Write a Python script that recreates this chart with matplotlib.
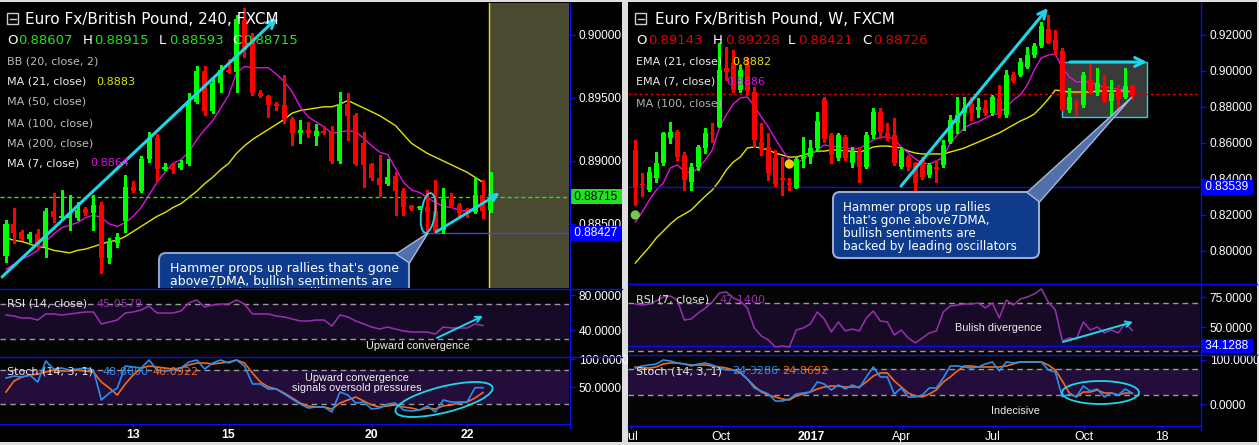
import numpy as np
import matplotlib
matplotlib.use("Agg")
import matplotlib.pyplot as plt
import matplotlib.transforms as mtransforms
from matplotlib.patches import Rectangle, FancyBboxPatch, Polygon, Ellipse
from matplotlib.lines import Line2D

plt.rcParams['font.family'] = ['DejaVu Sans']
SCALE_FONT = 'Liberation Sans'

# ---------------- EUR/GBP 4-hour candles ----------------
open_l = [0.88245, 0.88499, 0.88436, 0.88380, 0.88420, 0.88317, 0.88603, 0.88547, 0.88547, 0.88547,
          0.88619, 0.88587, 0.88650, 0.88229, 0.88349, 0.88523, 0.88793, 0.88761, 0.89016, 0.89182,
          0.88936, 0.88944, 0.88944, 0.88976, 0.89468, 0.89714, 0.89397, 0.89619, 0.89722, 0.89706,
          0.90119, 0.89960, 0.89540, 0.89516, 0.89452, 0.89444, 0.89333, 0.89222, 0.89246, 0.89198,
          0.89238, 0.89230, 0.89000, 0.89452, 0.89365, 0.89143, 0.88976, 0.88865, 0.88817, 0.88881,
          0.88761, 0.88642, 0.88626, 0.88634, 0.88603, 0.88452, 0.88698, 0.88650, 0.88619, 0.88595,
          0.88730, 0.88607]
high_l = [0.88531, 0.88626, 0.88452, 0.88436, 0.88460, 0.88626, 0.88746, 0.88769, 0.88730, 0.88674,
          0.88634, 0.88730, 0.88674, 0.88388, 0.88428, 0.88889, 0.88841, 0.89040, 0.89230, 0.89214,
          0.88984, 0.88976, 0.89008, 0.89540, 0.89754, 0.89754, 0.89659, 0.89762, 0.89810, 0.90159,
          0.90214, 0.90016, 0.89563, 0.89524, 0.89468, 0.89683, 0.89349, 0.89325, 0.89309, 0.89294,
          0.89278, 0.89278, 0.89548, 0.89540, 0.89381, 0.89230, 0.88984, 0.89048, 0.89016, 0.88912,
          0.88785, 0.88650, 0.88642, 0.88769, 0.88849, 0.88785, 0.88746, 0.88666, 0.88626, 0.88873,
          0.88849, 0.88915]
low_l = [0.88198, 0.88349, 0.88372, 0.88357, 0.88309, 0.88237, 0.88515, 0.88531, 0.88452, 0.88531,
         0.88571, 0.88452, 0.88110, 0.88190, 0.88317, 0.88436, 0.88754, 0.88754, 0.88992, 0.88841,
         0.88928, 0.88904, 0.88936, 0.88968, 0.89460, 0.89365, 0.89381, 0.89548, 0.89698, 0.89548,
         0.89826, 0.89524, 0.89508, 0.89349, 0.89405, 0.89302, 0.89127, 0.89143, 0.89190, 0.89127,
         0.89214, 0.88984, 0.88984, 0.89167, 0.88968, 0.88793, 0.88849, 0.88722, 0.88809, 0.88571,
         0.88571, 0.88611, 0.88619, 0.88452, 0.88427, 0.88428, 0.88634, 0.88555, 0.88555, 0.88587,
         0.88547, 0.88593]
close_l = [0.88499, 0.88428, 0.88380, 0.88420, 0.88317, 0.88603, 0.88555, 0.88563, 0.88563, 0.88611,
           0.88587, 0.88650, 0.88229, 0.88357, 0.88396, 0.88793, 0.88761, 0.89016, 0.89182, 0.88936,
           0.88952, 0.88936, 0.88984, 0.89476, 0.89714, 0.89397, 0.89619, 0.89722, 0.89706, 0.90127,
           0.89881, 0.89540, 0.89516, 0.89444, 0.89436, 0.89333, 0.89222, 0.89246, 0.89222, 0.89238,
           0.89222, 0.89000, 0.89452, 0.89357, 0.88976, 0.88968, 0.88865, 0.88809, 0.88873, 0.88761,
           0.88634, 0.88619, 0.88634, 0.88595, 0.88444, 0.88698, 0.88642, 0.88587, 0.88595, 0.88730,
           0.88603, 0.88715]
ma21_l = [0.8839, 0.8837, 0.8836, 0.8834, 0.8832, 0.8831, 0.8829, 0.8828, 0.8827, 0.8829,
          0.8830, 0.8832, 0.8834, 0.8836, 0.8837, 0.8840, 0.8844, 0.8848, 0.8852, 0.8856,
          0.8859, 0.8863, 0.8866, 0.8871, 0.8876, 0.8882, 0.8887, 0.8893, 0.8898, 0.8906,
          0.8912, 0.8917, 0.8921, 0.8925, 0.8929, 0.8933, 0.8938, 0.8940, 0.8941, 0.8942,
          0.8943, 0.8943, 0.8945, 0.8948, 0.8945, 0.8942, 0.8939, 0.8936, 0.8932, 0.8928,
          0.8921, 0.8914, 0.8910, 0.8906, 0.8903, 0.8900, 0.8897, 0.8894, 0.8891, 0.8887,
          0.8883]
ma7_l = [0.8814, 0.8818, 0.8822, 0.8825, 0.8829, 0.8836, 0.8842, 0.8847, 0.8849, 0.8851,
         0.8855, 0.8857, 0.8855, 0.8850, 0.8848, 0.8851, 0.8856, 0.8863, 0.8873, 0.8883,
         0.8891, 0.8898, 0.8901, 0.8907, 0.8917, 0.8925, 0.8932, 0.8942, 0.8952, 0.8970,
         0.8975, 0.8974, 0.8974, 0.8974, 0.8969, 0.8963, 0.8955, 0.8943, 0.8935, 0.8931,
         0.8927, 0.8922, 0.8923, 0.8924, 0.8923, 0.8918, 0.8912, 0.8907, 0.8905, 0.8894,
         0.8883, 0.8877, 0.8875, 0.8871, 0.8867, 0.8864, 0.8863, 0.8861, 0.8860, 0.8863,
         0.8864]
rsi_l = [57.1, 56.0, 53.7, 53.7, 51.4, 58.3, 58.3, 57.1, 58.3, 59.4,
         60.6, 60.6, 46.9, 49.1, 51.4, 59.4, 60.6, 62.9, 67.4, 59.4,
         59.4, 59.4, 61.7, 70.9, 74.3, 66.3, 68.6, 69.7, 69.7, 74.3,
         69.7, 58.3, 58.3, 58.3, 56.0, 54.9, 52.6, 50.3, 50.3, 51.4,
         51.4, 44.6, 57.1, 54.9, 50.3, 46.9, 43.4, 41.1, 43.4, 41.1,
         38.9, 37.7, 37.7, 37.7, 35.4, 43.4, 42.3, 42.3, 42.3, 46.9,
         45.0579]
stk_l = [66.1, 69.6, 67.9, 71.4, 58.9, 96.4, 82.1, 83.9, 80.4, 82.1,
         83.9, 80.4, 26.8, 39.3, 48.2, 87.5, 85.7, 83.9, 98.2, 80.4,
         78.6, 80.4, 83.9, 94.6, 98.2, 82.1, 92.9, 98.2, 92.9, 98.2,
         87.5, 55.4, 55.4, 46.4, 46.4, 37.5, 28.6, 19.6, 12.5, 14.3,
         14.3, 5.4, 41.1, 35.7, 21.4, 23.2, 10.7, 12.5, 19.6, 21.4,
         8.9, 7.1, 8.9, 16.1, 5.4, 26.8, 23.2, 23.2, 23.2, 48.8,
         48.8]
std_l = [41.1, 60.7, 67.9, 71.4, 73.2, 76.8, 80.4, 78.6, 78.6, 80.4,
         78.6, 76.8, 58.9, 48.2, 35.7, 55.4, 71.4, 83.9, 87.5, 85.7,
         83.9, 82.1, 83.9, 89.3, 92.9, 92.9, 91.1, 92.9, 94.6, 98.2,
         92.9, 75.0, 58.9, 50.0, 46.4, 39.3, 30.4, 21.4, 16.1, 14.3,
         14.3, 10.7, 21.4, 26.8, 32.1, 25.0, 17.9, 14.3, 16.1, 17.9,
         14.3, 12.5, 8.9, 12.5, 10.7, 16.1, 17.9, 21.4, 23.2, 30.4,
         40.0922]
ticks_l = [16, 28, 46, 58]
ticklabels_l = ['13', '15', '20', '22']
support_l = 0.88427

# ---------------- EUR/GBP weekly candles ----------------
open_r = [0.85611, 0.83722, 0.83389, 0.84055, 0.84888, 0.86277, 0.86610, 0.85332, 0.83833, 0.84666,
          0.85721, 0.86555, 0.86888, 0.90166, 0.90444, 0.88944, 0.90333, 0.88833, 0.86055, 0.85777,
          0.85166, 0.84055, 0.83777, 0.83499, 0.85110, 0.85221, 0.85721, 0.88444, 0.86444, 0.85166,
          0.86333, 0.84888, 0.85499, 0.84666, 0.86444, 0.87721, 0.86555, 0.86444, 0.84666, 0.85221,
          0.84888, 0.85055, 0.84222, 0.84666, 0.84777, 0.86055, 0.87110, 0.87666, 0.88166, 0.87833,
          0.87944, 0.87666, 0.88499, 0.87555, 0.89777, 0.89777, 0.90222, 0.90888, 0.91388, 0.92333,
          0.91722, 0.91110, 0.87833, 0.88222, 0.88111, 0.89499, 0.88777, 0.89221, 0.88333, 0.88944,
          0.88555, 0.89143]
high_r = [0.86166, 0.84333, 0.84666, 0.85499, 0.86610, 0.87166, 0.86721, 0.85499, 0.84888, 0.85888,
          0.86833, 0.87110, 0.91555, 0.91333, 0.91166, 0.90333, 0.90722, 0.89110, 0.87110, 0.86555,
          0.85611, 0.85221, 0.84055, 0.85221, 0.86333, 0.86166, 0.87721, 0.88555, 0.86555, 0.86555,
          0.86444, 0.85777, 0.85777, 0.86610, 0.87944, 0.87944, 0.87110, 0.87388, 0.85777, 0.85333,
          0.84944, 0.85221, 0.84888, 0.85055, 0.86166, 0.87555, 0.88555, 0.88555, 0.88555, 0.88499,
          0.88388, 0.88666, 0.89221, 0.90055, 0.89944, 0.90722, 0.91333, 0.91555, 0.92722, 0.93110,
          0.92277, 0.91277, 0.89055, 0.88388, 0.89944, 0.90444, 0.90166, 0.89777, 0.89499, 0.89221,
          0.90166, 0.89228]
low_r = [0.82555, 0.83055, 0.83333, 0.83833, 0.84777, 0.85999, 0.85055, 0.83388, 0.83388, 0.84499,
         0.85443, 0.86055, 0.86888, 0.89499, 0.88833, 0.88833, 0.88666, 0.85777, 0.85333, 0.83944,
         0.83610, 0.83110, 0.83388, 0.83499, 0.84666, 0.84888, 0.85610, 0.86055, 0.84888, 0.85055,
         0.85055, 0.84666, 0.83833, 0.84610, 0.86277, 0.86277, 0.86166, 0.84777, 0.84610, 0.84499,
         0.82999, 0.83999, 0.84110, 0.83833, 0.84666, 0.85999, 0.86555, 0.86722, 0.87277, 0.87444,
         0.87555, 0.87555, 0.87444, 0.87444, 0.89388, 0.89722, 0.90166, 0.90777, 0.91333, 0.91555,
         0.90944, 0.87833, 0.87722, 0.87555, 0.87999, 0.88777, 0.88666, 0.88277, 0.87444, 0.87944,
         0.88499, 0.88421]
close_r = [0.83539, 0.83638, 0.84388, 0.84888, 0.86555, 0.86610, 0.85221, 0.83944, 0.84666, 0.85777,
           0.86555, 0.86499, 0.90055, 0.89944, 0.88944, 0.90055, 0.88888, 0.86166, 0.85611, 0.84333,
           0.83721, 0.83944, 0.83666, 0.85110, 0.85277, 0.85721, 0.87221, 0.86222, 0.85333, 0.86444,
           0.85166, 0.85499, 0.84666, 0.86444, 0.87721, 0.86610, 0.86333, 0.84888, 0.85611, 0.84666,
           0.83777, 0.84110, 0.84777, 0.84555, 0.85888, 0.87277, 0.87555, 0.87944, 0.87666, 0.87999,
           0.87666, 0.88555, 0.87555, 0.89777, 0.89444, 0.90499, 0.90888, 0.91388, 0.92499, 0.91555,
           0.91166, 0.87833, 0.88555, 0.88111, 0.89777, 0.88833, 0.89333, 0.88333, 0.88777, 0.88444,
           0.89166, 0.88726]
ema21_r = [0.7933, 0.7978, 0.8022, 0.8072, 0.8111, 0.8150, 0.8183, 0.8205, 0.8228, 0.8267,
           0.8305, 0.8339, 0.8389, 0.8450, 0.8494, 0.8522, 0.8572, 0.8578, 0.8572, 0.8561,
           0.8544, 0.8533, 0.8522, 0.8522, 0.8533, 0.8544, 0.8555, 0.8555, 0.8561, 0.8561,
           0.8555, 0.8555, 0.8550, 0.8561, 0.8578, 0.8583, 0.8583, 0.8578, 0.8572, 0.8555,
           0.8544, 0.8539, 0.8539, 0.8539, 0.8539, 0.8550, 0.8561, 0.8572, 0.8589, 0.8605,
           0.8622, 0.8639, 0.8656, 0.8678, 0.8700, 0.8722, 0.8739, 0.8761, 0.8800, 0.8844,
           0.8894, 0.8889, 0.8883, 0.8883, 0.8883, 0.8883, 0.8889, 0.8889, 0.8889, 0.8889,
           0.8889, 0.8882]
ema7_r = [0.8161, 0.8217, 0.8283, 0.8339, 0.8378, 0.8461, 0.8478, 0.8444, 0.8433, 0.8461,
          0.8505, 0.8561, 0.8683, 0.8756, 0.8817, 0.8850, 0.8856, 0.8806, 0.8744, 0.8689,
          0.8622, 0.8561, 0.8505, 0.8483, 0.8511, 0.8539, 0.8561, 0.8589, 0.8583, 0.8578,
          0.8572, 0.8567, 0.8567, 0.8594, 0.8617, 0.8633, 0.8633, 0.8622, 0.8578, 0.8544,
          0.8511, 0.8489, 0.8483, 0.8500, 0.8522, 0.8600, 0.8644, 0.8683, 0.8706, 0.8717,
          0.8739, 0.8756, 0.8767, 0.8800, 0.8839, 0.8867, 0.8922, 0.9006, 0.9072, 0.9089,
          0.9094, 0.9017, 0.8967, 0.8939, 0.8939, 0.8939, 0.8922, 0.8911, 0.8906, 0.8900,
          0.8894, 0.8886]
rsi_r = [69.2, 68.3, 69.2, 71.7, 75.0, 75.8, 72.5, 55.8, 56.7, 61.7,
         65.8, 70.8, 78.3, 79.2, 74.2, 71.7, 65.8, 49.2, 42.5, 39.2,
         33.3, 34.2, 33.3, 47.5, 49.2, 52.5, 62.5, 56.7, 45.8, 54.2,
         46.7, 48.3, 46.7, 57.5, 63.3, 55.0, 54.2, 43.3, 47.5, 40.8,
         36.7, 40.8, 45.0, 46.7, 62.5, 67.5, 68.3, 69.2, 69.2, 70.0,
         65.8, 70.0, 57.5, 72.5, 68.3, 73.3, 75.0, 77.5, 81.7, 70.8,
         64.2, 38.3, 40.8, 40.0, 54.2, 47.5, 50.0, 45.0, 47.5, 45.0,
         53.3, 47.14]
stk_r = [81.8, 86.4, 88.6, 90.9, 100.0, 97.7, 93.2, 90.9, 86.4, 90.9,
         93.2, 88.6, 81.8, 77.3, 77.3, 72.7, 56.8, 36.4, 29.5, 22.7,
         6.8, 6.8, 11.4, 22.7, 25.0, 27.3, 50.0, 45.5, 31.8, 43.2,
         34.1, 43.2, 36.4, 61.4, 84.1, 61.4, 61.4, 22.7, 36.4, 15.9,
         15.9, 20.5, 36.4, 36.4, 59.1, 86.4, 86.4, 84.1, 81.8, 84.1,
         90.9, 95.5, 75.0, 95.5, 93.2, 95.5, 95.5, 95.5, 95.5, 77.3,
         72.7, 15.9, 22.7, 15.9, 40.9, 29.5, 34.1, 15.9, 25.0, 20.5,
         34.1, 24.3286]
std_r = [84.1, 81.8, 81.8, 84.1, 90.9, 93.2, 93.2, 90.9, 88.6, 88.6,
         88.6, 86.4, 84.1, 81.8, 77.3, 70.5, 56.8, 40.9, 27.3, 20.5,
         15.9, 11.4, 9.1, 18.2, 22.7, 27.3, 34.1, 38.6, 40.9, 40.9,
         38.6, 38.6, 38.6, 50.0, 63.6, 70.5, 70.5, 52.3, 38.6, 25.0,
         18.2, 15.9, 22.7, 31.8, 50.0, 61.4, 75.0, 86.4, 86.4, 84.1,
         84.1, 84.1, 84.1, 86.4, 90.9, 95.5, 95.5, 95.5, 95.5, 88.6,
         77.3, 52.3, 25.0, 15.9, 27.3, 27.3, 31.8, 25.0, 25.0, 20.5,
         25.0, 24.8692]
signal_x_r = [0, 22]
signal_y_r = [0.8200, 0.8483]
signal_c_r = ['#78c850', '#ffc400']
ticks_r = [-0.6, 12.2, 25.1, 38.1, 51.1, 64.1, 75.2]
ticklabels_r = ['Jul', 'Oct', '2017', 'Apr', 'Jul', 'Oct', '18']
support_r = 0.83539
rsi_mark_r = 34.1288

# ---------------- styling ----------------
W, H = 1259, 445
BLUE = '#0c0cf2'
UP = '#00ff00'
DOWN = '#ff0000'
CYAN = '#1ed6ea'
YEL = '#e4e400'
MAG = '#e010e0'
RSI_C = '#9a2fb2'
K_C = '#2a8ef0'
D_C = '#f26a1c'
BAND_R = '#170a26'
BAND_S = '#230e3b'
PANE_BG = '#050505'

fig = plt.figure(figsize=(W / 100, H / 100), dpi=100, facecolor='#dedede')
PX = mtransforms.Affine2D().scale(1, -1).translate(0, H)   # top-left pixel space


def rect(x0, y0, x1, y1):
    return [x0 / W, 1 - y1 / H, (x1 - x0) / W, (y1 - y0) / H]


def pxline(x0, y0, x1, y1, color=BLUE, lw=1.0, **kw):
    fig.add_artist(Line2D([x0, x1], [y0, y1], transform=PX, color=color, lw=lw, **kw))


def ftxt(x, y, s, color='white', size=8, **kw):
    fig.text(x, y, s, transform=PX, color=color, fontsize=size, va='center', ha='left', **kw)


def ctxt(x, y, s, size=7.8, **kw):
    fig.text(x, y, s, transform=PX, color='#eeeeee', fontsize=size, ha='center',
             va='center', family=SCALE_FONT, **kw)


def style(ax, xlim, ylim, yticks, ylabels, face):
    ax.set_facecolor(face)
    ax.set_xlim(xlim)
    ax.set_ylim(ylim)
    for s in ax.spines.values():
        s.set_visible(False)
    ax.yaxis.tick_right()
    ax.set_yticks(yticks, labels=ylabels)
    ax.tick_params(axis='y', color=BLUE, labelcolor='white', length=4, width=1,
                   labelsize=8.6, pad=3)
    for t in ax.yaxis.get_major_ticks():
        t.label2.set_fontfamily(SCALE_FONT)
    ax.tick_params(axis='x', bottom=False, labelbottom=False)


def value_box(ax, v, text, fc, tc):
    ax.text(1.004, v, ' %s ' % text, transform=ax.get_yaxis_transform(), va='center',
            ha='left', color=tc, fontsize=8.6, family=SCALE_FONT, zorder=10,
            bbox=dict(boxstyle='square,pad=0.12', fc=fc, ec='none'))


def date_axis(ax, ticks, labels, bold=()):
    ax.set_xticks(ticks, labels=labels)
    ax.tick_params(axis='x', bottom=True, labelbottom=True, color=BLUE, labelcolor='white',
                   length=3, width=1, labelsize=8.8, pad=1)
    for t in ax.xaxis.get_major_ticks():
        t.label1.set_fontfamily(SCALE_FONT)
        if t.label1.get_text() in bold:
            t.label1.set_fontweight('bold')


def candles(ax, o, h, l, c, width, npx):
    o, h, l, c = map(np.asarray, (o, h, l, c))
    x = np.arange(len(o))
    cols = np.where(c >= o, UP, DOWN)
    y0, y1 = ax.get_ylim()
    minh = (y1 - y0) / npx
    ax.vlines(x, l, h, colors=cols, lw=1, zorder=3, antialiased=False)
    ax.bar(x, np.maximum(np.abs(c - o), minh), width, np.minimum(o, c),
           color=cols, lw=0, zorder=4, antialiased=False)


def px_ellipse(ax, x, y, w, h, angle, color=CYAN, lw=1.3):
    tr = mtransforms.ScaledTranslation(x, y, ax.transData)
    ax.add_patch(Ellipse((0, 0), w, h, angle=angle, transform=tr, fill=False,
                         ec=color, lw=lw, zorder=7))


def arrow(ax, p0, p1, lw=2.0, ms=12):
    ax.annotate('', xy=p1, xytext=p0,
                arrowprops=dict(arrowstyle='->', color=CYAN, lw=lw, mutation_scale=ms,
                                shrinkA=0, shrinkB=0), zorder=7)


def osc_panes(axr, axs, xlim, rlim, slim, rticks, sticks, x, rsi, k, d):
    style(axr, xlim, rlim, rticks, ['%.4f' % v for v in rticks], PANE_BG)
    style(axs, xlim, slim, sticks, ['%.4f' % v for v in sticks], PANE_BG)
    axr.axhspan(30, 70, color=BAND_R, lw=0, zorder=0)
    axs.axhspan(20, 80, color=BAND_S, lw=0, zorder=0)
    for lev in (30, 70):
        axr.axhline(lev, color='#9a9a9a', lw=1, ls=(0, (4, 3)), zorder=1)
    for lev in (20, 80):
        axs.axhline(lev, color='#9a9a9a', lw=1, ls=(0, (4, 3)), zorder=1)
    axr.plot(x, rsi, color=RSI_C, lw=1.1, zorder=3)
    axs.plot(x, d, color=D_C, lw=1.2, zorder=3)
    axs.plot(x, k, color=K_C, lw=1.2, zorder=4)


# panel backgrounds
fig.add_artist(Rectangle((0, 2), 622, 440, transform=PX, fc='black', ec='none', zorder=-5))
fig.add_artist(Rectangle((628, 2), 629, 440, transform=PX, fc='black', ec='none', zorder=-5))

# ======================= left: 4-hour chart =======================
xl = (-0.755, 70.82)
axL = fig.add_axes(rect(0, 3, 569, 288))
axLr = fig.add_axes(rect(0, 288, 569, 356))
axLs = fig.add_axes(rect(0, 356, 569, 423))
style(axL, xl, (0.87991, 0.90254), [0.885, 0.89, 0.895, 0.90],
      ['0.88500', '0.89000', '0.89500', '0.90000'], 'black')

axL.axvspan(60.75, xl[1], color='#4a4a32', lw=0, zorder=0.5)
axL.axvline(60.75, color=YEL, lw=1, zorder=1)
xi = np.arange(len(ma21_l))
axL.plot(xi, ma21_l, color=YEL, lw=1.0, zorder=2)
axL.plot(xi, ma7_l, color=MAG, lw=1.0, zorder=2)
candles(axL, open_l, high_l, low_l, close_l, 0.63, 285)
axL.axhline(close_l[-1], color='#22e022', lw=1, ls=(0, (3, 2)), zorder=2)
axL.hlines(support_l, 52.2, xl[1], color='#4646d6', lw=1, zorder=2)
arrow(axL, (-0.5, 0.88079), (34.1, 0.90135), lw=2.2, ms=14)
px_ellipse(axL, 53.1, 0.88587, 14, 40, -8)
arrow(axL, (54.1, 0.88436), (62.1, 0.88746), lw=2.0, ms=12)

# callout
axL.add_patch(FancyBboxPatch((159, 253), 250, 70, boxstyle='round,pad=0,rounding_size=7',
                             transform=PX, fc='#0e3b8c', ec='#8ea2cc', lw=1.5, zorder=8))
axL.add_patch(Polygon([(396, 254), (428, 233), (409.5, 263)], closed=True, transform=PX,
                      fc='#5170aa', ec='#a8b8d8', lw=1, zorder=9))
axL.text(170, 262, "Hammer props up rallies that's gone\nabove7DMA, bullish sentiments are\n"
         "backed by leading oscillators", transform=PX, va='top', ha='left', color='white',
         fontsize=9, linespacing=0.97, clip_on=True, zorder=10)

value_box(axL, close_l[-1], '%.5f' % close_l[-1], '#22e022', 'black')
value_box(axL, support_l, '%.5f' % support_l, '#0000ff', 'white')

osc_panes(axLr, axLs, xl, (10.3, 88.0), (-14.3, 105.4), [40, 80], [50, 100],
          np.arange(len(rsi_l)), rsi_l, stk_l, std_l)
arrow(axLr, (54.2, 30.9), (60.0, 56.0), lw=1.4, ms=10)
px_ellipse(axLs, 55.1, 27.7, 100, 26, 14)
date_axis(axLs, ticks_l, ticklabels_l, bold=ticklabels_l)

ctxt(418, 346, 'Upward convergence')
ctxt(357, 383, 'Upward convergence\nsignals oversold pressures', linespacing=1.1)

# header / legend
fig.add_artist(Rectangle((7, 13), 11, 11, transform=PX, fill=False, ec='#cfcfcf', lw=1))
pxline(9.5, 18.5, 15.5, 18.5, color='#cfcfcf')
ftxt(25, 20, 'Euro Fx/British Pound, 240, FXCM', size=11)
for lx, vx, lab, val in [(7, 18, 'O', open_l[-1]), (83, 94, 'H', high_l[-1]),
                          (159, 169, 'L', low_l[-1]), (232, 243, 'C', close_l[-1])]:
    ftxt(lx, 41, lab, size=9.5)
    ftxt(vx, 41, '%.5f' % val, color='#22e022', size=9.5)
for yy, lab, col in [(62, 'BB (20, close, 2)', '#bdbdbd'), (82, 'MA (21, close)', '#ececec'),
                     (102, 'MA (50, close)', '#bdbdbd'), (123, 'MA (100, close)', '#bdbdbd'),
                     (143, 'MA (200, close)', '#bdbdbd'), (163, 'MA (7, close)', '#ececec')]:
    ftxt(7, yy, lab, color=col, size=8)
ftxt(96, 82, '%.4f' % ma21_l[-1], color=YEL, size=8)
ftxt(90, 163, '%.4f' % ma7_l[-1], color=MAG, size=8)
ftxt(7, 304, 'RSI (14, close)', color='#e6e6e6', size=8)
ftxt(96, 304, '%.4f' % rsi_l[-1], color=RSI_C, size=8)
ftxt(7, 372, 'Stoch (14, 3, 1)', color='#e6e6e6', size=8)
ftxt(102, 372, '%.4f' % stk_l[-1], color=K_C, size=8)
ftxt(152, 372, '%.4f' % std_l[-1], color=D_C, size=8)

# frame lines
pxline(569.5, 3, 569.5, 428)
pxline(0, 288.5, 622, 288.5)
pxline(0, 356.5, 622, 356.5)
pxline(0, 423.5, 569.5, 423.5)

# ======================= right: weekly chart =======================
xr = (-1.043, 80.67)
axR = fig.add_axes(rect(628, 3, 1200, 283))
axRr = fig.add_axes(rect(628, 283, 1200, 354))
axRs = fig.add_axes(rect(628, 354, 1200, 425))
style(axR, xr, (0.78221, 0.93777), [0.80, 0.82, 0.84, 0.86, 0.88, 0.90, 0.92],
      ['%.5f' % v for v in [0.80, 0.82, 0.84, 0.86, 0.88, 0.90, 0.92]], 'black')

axR.add_patch(Rectangle((60.96, 0.87444), 12.14, 0.03056, fc='#3a3a3a', ec=CYAN, lw=1,
                        zorder=1))
xj = np.arange(len(ema21_r))
axR.plot(xj, ema21_r, color=YEL, lw=1.0, zorder=2)
axR.plot(xj, ema7_r, color=MAG, lw=1.0, zorder=2)
candles(axR, open_r, high_r, low_r, close_r, 0.71, 280)
axR.scatter(signal_x_r, signal_y_r, s=45, c=signal_c_r, zorder=6, lw=0)
axR.axhline(close_r[-1], color='#e00000', lw=1, ls=(0, (2, 2)), zorder=2)
axR.axhline(support_r, color=BLUE, lw=1, zorder=2)
arrow(axR, (37.96, 0.8361), (58.96, 0.9350), lw=2.2, ms=14)
arrow(axR, (62.1, 0.9050), (73.1, 0.9050), lw=2.2, ms=16)

axR.add_patch(FancyBboxPatch((833, 192), 206, 66, boxstyle='round,pad=0,rounding_size=7',
                             transform=PX, fc='#0e3b8c', ec='#9aaad2', lw=1.5, zorder=8))
axR.add_patch(Polygon([(1027, 192.5), (1132, 97), (1039.5, 202)], closed=True, transform=PX,
                      fc='#5170aa', ec='#a8b8d8', lw=1, zorder=9))
axR.text(843, 201, "Hammer props up rallies\nthat's gone above7DMA,\nbullish sentiments are\n"
         "backed by leading oscillators", transform=PX, va='top', ha='left', color='white',
         fontsize=8.6, linespacing=0.99, clip_on=True, zorder=10)

value_box(axR, support_r, '%.5f' % support_r, '#0000ff', 'white')

osc_panes(axRr, axRs, xr, (27.5, 86.67), (-47.7, 113.6), [50, 75], [0, 100],
          np.arange(len(rsi_r)), rsi_r, stk_r, std_r)
axRr.axhline(rsi_mark_r, color=BLUE, lw=1, zorder=2)
value_box(axRr, rsi_mark_r, '%.4f' % rsi_mark_r, '#0000ff', 'white')
arrow(axRr, (61.1, 37.5), (71.1, 54.2), lw=1.4, ms=10)
px_ellipse(axRs, 66.46, 26.1, 77, 23, 0)
date_axis(axRs, ticks_r, ticklabels_r, bold=('2017',))
clipbox = mtransforms.Bbox.from_extents(628, 0, 1257, H)
for t in axRs.xaxis.get_major_ticks():
    t.label1.set_clip_box(clipbox)
    t.label1.set_clip_on(True)

ctxt(998, 328, 'Bulish divergence')
ctxt(1015, 411, 'Indecisive')

fig.add_artist(Rectangle((635, 13), 11, 11, transform=PX, fill=False, ec='#cfcfcf', lw=1))
pxline(637.5, 18.5, 643.5, 18.5, color='#cfcfcf')
ftxt(655, 20, 'Euro Fx/British Pound, W, FXCM', size=11)
for lx, vx, lab, val in [(636, 648, 'O', open_r[-1]), (713, 725, 'H', high_r[-1]),
                          (788, 798, 'L', low_r[-1]), (862, 873, 'C', close_r[-1])]:
    ftxt(lx, 41, lab, size=9.5)
    ftxt(vx, 41, '%.5f' % val, color='#e00000', size=9.5)
ftxt(636, 62, 'EMA (21, close)', color='#ececec', size=8)
ftxt(732, 62, '%.4f' % ema21_r[-1], color=YEL, size=8)
ftxt(636, 82, 'EMA (7, close)', color='#ececec', size=8)
ftxt(726, 82, '%.4f' % ema7_r[-1], color=MAG, size=8)
ftxt(636, 104, 'MA (100, close)', color='#b0b0b0', size=8)
ftxt(636, 300, 'RSI (7, close)', color='#e6e6e6', size=8)
ftxt(719, 300, '%.4f' % rsi_r[-1], color=RSI_C, size=8)
ftxt(636, 371, 'Stoch (14, 3, 1)', color='#e6e6e6', size=8)
ftxt(732, 371, '%.4f' % stk_r[-1], color=K_C, size=8)
ftxt(782, 371, '%.4f' % std_r[-1], color=D_C, size=8)

pxline(1200.5, 3, 1200.5, 430)
pxline(628, 283.5, 1257, 283.5)
pxline(628, 354.5, 1257, 354.5)
pxline(628, 425.5, 1200.5, 425.5)

fig.savefig('out.png', dpi=100, facecolor=fig.get_facecolor())
